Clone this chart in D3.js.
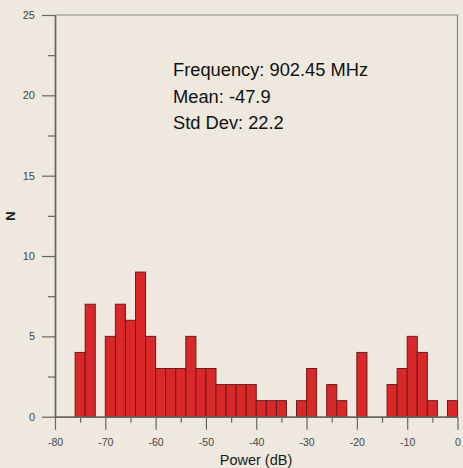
<!DOCTYPE html>
<html>
<head>
<meta charset="utf-8">
<script src="https://cdn.jsdelivr.net/npm/d3@7"></script>
<style>
  html, body { margin: 0; padding: 0; background: #eee8de; }
  svg { display: block; }
  text { font-family: "Liberation Sans", Arial, sans-serif; }
</style>
</head>
<body>
<svg id="chart" width="463" height="468"></svg>
<script>
// Histogram of received power (2 dB bins)
const binStarts = [-76, -74, -72, -70, -68, -66, -64, -62, -60, -58, -56, -54, -52, -50,
                   -48, -46, -44, -42, -40, -38, -36, -34, -32, -30, -28, -26, -24, -22,
                   -20, -18, -16, -14, -12, -10, -8, -6, -4, -2];
const counts = [4, 7, 0, 5, 7, 6, 9, 5, 3, 3, 3, 5, 3, 3,
                2, 2, 2, 2, 1, 1, 1, 0, 1, 3, 0, 2, 1, 0,
                4, 0, 0, 2, 3, 5, 4, 1, 0, 1];
const binWidth = 2;

const xMajor = [-80, -70, -60, -50, -40, -30, -20, -10, 0];
const xMinor = [-75, -65, -55, -45, -35, -25, -15, -5];
const yMajor = [0, 5, 10, 15, 20, 25];
const yMinor = [2.5, 7.5, 12.5, 17.5, 22.5];

const infoLines = ["Frequency: 902.45 MHz", "Mean: -47.9", "Std Dev: 22.2"];

const svg = d3.select("#chart");
const plotLeft = 55, plotRight = 457.5, plotTop = 15, plotBottom = 416.7;

const x = d3.scaleLinear().domain([-80, 0]).range([plotLeft, plotRight]);
const y = d3.scaleLinear().domain([0, 25]).range([plotBottom, plotTop]);

// frame (top and right edges)
svg.append("path")
  .attr("d", `M${plotLeft},${plotTop}H${plotRight}V${plotBottom}`)
  .attr("fill", "none")
  .attr("stroke", "#8a8580")
  .attr("stroke-width", 1.2);

// bars
svg.append("g").selectAll("rect")
  .data(binStarts.map((s, i) => ({ s, c: counts[i] })).filter(d => d.c > 0))
  .join("rect")
  .attr("x", d => x(d.s))
  .attr("y", d => y(d.c))
  .attr("width", d => x(d.s + binWidth) - x(d.s))
  .attr("height", d => y(0) - y(d.c))
  .attr("fill", "#d8282a")
  .attr("stroke", "#6e1a1a")
  .attr("stroke-width", 1);

function styleAxis(g) {
  g.selectAll(".domain").attr("stroke", "#6a6560").attr("stroke-width", 1.4);
  g.selectAll(".tick line").attr("stroke", "#6a6560").attr("stroke-width", 1.2);
  g.selectAll(".tick text").attr("fill", "#464646")
    .style("font-family", "'Liberation Sans', Arial, sans-serif");
}

// plain hyphen-minus labels
const plain = d => String(d);

// minor ticks
svg.append("g").attr("transform", `translate(${plotLeft},0)`)
  .call(d3.axisLeft(y).tickValues(yMinor).tickSize(7).tickFormat("").tickSizeOuter(0))
  .call(styleAxis);
svg.append("g").attr("transform", `translate(0,${plotBottom})`)
  .call(d3.axisBottom(x).tickValues(xMinor).tickSize(6).tickFormat("").tickSizeOuter(0))
  .call(styleAxis);

// major ticks and labels
const yAxis = svg.append("g").attr("transform", `translate(${plotLeft},0)`)
  .call(d3.axisLeft(y).tickValues(yMajor).tickFormat(plain).tickSize(13).tickPadding(7).tickSizeOuter(0))
  .call(styleAxis);
yAxis.selectAll(".tick text").style("font-size", "11px");

const xAxis = svg.append("g").attr("transform", `translate(0,${plotBottom})`)
  .call(d3.axisBottom(x).tickValues(xMajor).tickFormat(plain).tickSize(13).tickPadding(9).tickSizeOuter(0))
  .call(styleAxis);
xAxis.selectAll(".tick text").style("font-size", "10.5px");

// axis titles
svg.append("text")
  .attr("transform", "translate(15,216) rotate(-90)")
  .attr("text-anchor", "middle")
  .attr("fill", "#1a1a1a")
  .style("font-size", "13px")
  .style("font-weight", "bold")
  .text("N");

svg.append("text")
  .attr("x", 256)
  .attr("y", 465)
  .attr("text-anchor", "middle")
  .attr("fill", "#1a1a1a")
  .style("font-size", "14.5px")
  .text("Power (dB)");

// summary statistics
svg.append("g").selectAll("text")
  .data(infoLines)
  .join("text")
  .attr("x", 173)
  .attr("y", (d, i) => 76 + i * 26.5)
  .attr("fill", "#111")
  .style("font-size", "18.3px")
  .text(d => d);
</script>
</body>
</html>
